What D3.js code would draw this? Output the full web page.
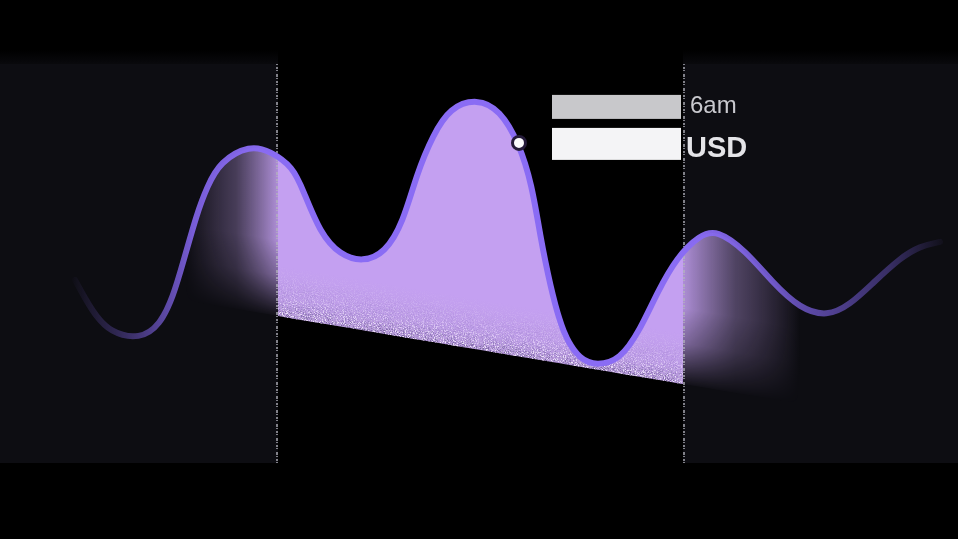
<!DOCTYPE html>
<html>
<head>
<meta charset="utf-8">
<script src="https://cdn.jsdelivr.net/npm/d3@7"></script>
<style>
  html, body { margin: 0; padding: 0; background: #000; overflow: hidden; }
  svg { display: block; }
</style>
</head>
<body>
<div id="chart"></div>
<script>
// price curve, time in 10-minute steps
var times = [7.5, 9.3, 11, 14, 16, 17.3, 18.3, 19.7, 20.7, 22, 25, 27, 29.3, 30.3, 32, 34, 36.3,
             38.5, 40.3, 41.7, 43.3, 45, 47.7, 50, 51.9, 53.2, 54, 55, 56.3, 58, 59.7, 62, 64,
             65.7, 67.7, 70, 71.7, 74.5, 77.3, 80, 82.7, 85, 87.3, 90, 92, 94];
var prices = [40, 29, 22.5, 20.2, 25, 34.3, 45.7, 62.3, 71, 79.5, 85, 83, 77.7, 70, 55.7, 48.3, 46,
              49, 59, 75.7, 88.3, 97.5, 100.5, 96.7, 85.7, 71.7, 55, 38.3, 21.7, 13.3, 11.5, 13.3, 23.3,
              35.7, 47.7, 55, 56.7, 50, 39, 30.5, 27.8, 31.7, 39, 47.3, 51.3, 52.7];
// selected window and the floor of the fill at its two edges
var brushTimes = [27.8, 68.3];
var floorPrices = [28, 5.3];
// hovered point
var hoverIndex = 24;
var hoverLabels = ["6am", "USD"];

var w = 958, h = 539,
    panelTop = 64, panelBottom = 463;

var xScale = d3.scaleLinear().domain([0, 95.8]).range([0, w]);
var yScale = d3.scaleLinear().domain([0, 100]).range([400, 100]);
var floorScale = d3.scaleLinear().domain(brushTimes).range(floorPrices);

var data = times.map(function(t, i) { return {t: t, v: prices[i]}; });

var svg = d3.select("#chart")
    .append("svg")
    .attr("width", w)
    .attr("height", h);

var defs = svg.append("defs");

var bx0 = xScale(brushTimes[0]), bx1 = xScale(brushTimes[1]);
var by0 = yScale(floorPrices[0]), by1 = yScale(floorPrices[1]);

// normal of the sloping floor, for fades that follow it
var dx = bx1 - bx0, dy = by1 - by0, len = Math.sqrt(dx * dx + dy * dy);
var nx = -dy / len, ny = dx / len;
var mx = (bx0 + bx1) / 2, my = (by0 + by1) / 2;

var grad = function(id, x1, y1, x2, y2, stops) {
  var g = defs.append("linearGradient")
      .attr("id", id)
      .attr("gradientUnits", "userSpaceOnUse")
      .attr("x1", x1).attr("y1", y1).attr("x2", x2).attr("y2", y2);
  stops.forEach(function(s) {
    g.append("stop")
        .attr("offset", s[0])
        .attr("stop-color", s[1])
        .attr("stop-opacity", s[2]);
  });
};

grad("midFill", mx - 50 * nx, my - 50 * ny, mx, my,
    [[0, "#c4a0f1", 1], [0.6, "#c4a2ef", 0.97], [1, "#c8a8f0", 0.9]]);
grad("grainLightFill", mx - 50 * nx, my - 50 * ny, mx + 1 * nx, my + 1 * ny,
    [[0, "#f0e0ff", 0], [0.5, "#eedcff", 0.35], [1, "#f8f0ff", 1]]);
grad("grainDarkFill", mx - 40 * nx, my - 40 * ny, mx + 1 * nx, my + 1 * ny,
    [[0, "#5a4a85", 0], [0.6, "#6a58a0", 0.2], [1, "#3a2f60", 0.55]]);
grad("leftFill", 185, 0, bx0, 0,
    [[0, "#c4a0f1", 0], [0.55, "#b496dc", 0.35], [1, "#c4a0f1", 0.88]]);
grad("rightFill", bx1, 0, 800, 0,
    [[0, "#c4a0f1", 0.88], [0.45, "#b496dc", 0.4], [1, "#c4a0f1", 0]]);
grad("floorFade", mx - 75 * nx, my - 75 * ny, mx + 2 * nx, my + 2 * ny,
    [[0, "#fff", 1], [0.45, "#fff", 0.7], [1, "#fff", 0]]);
grad("lineFade", 70, 0, 950, 0,
    [[0, "#8a6cf2", 0], [0.05, "#7a60dc", 0.3], [0.14, "#8466ec", 0.9], [0.236, "#8a6cf4", 1],
     [0.7, "#8a6cf4", 1], [0.8, "#7e63e4", 0.85], [0.93, "#6e58cc", 0.45], [1, "#6e58cc", 0]]);
grad("panelTop", 0, panelTop - 14, 0, panelTop + 6,
    [[0, "#0d0d12", 0], [1, "#0d0d12", 1]]);

// speckle filters for the grainy floor
var grain = function(id, seed, freq) {
  var f = defs.append("filter")
      .attr("id", id)
      .attr("filterUnits", "userSpaceOnUse")
      .attr("x", 0).attr("y", 0).attr("width", w).attr("height", h);
  f.append("feTurbulence")
      .attr("type", "fractalNoise")
      .attr("baseFrequency", freq)
      .attr("numOctaves", 2)
      .attr("seed", seed)
      .attr("result", "noise");
  f.append("feColorMatrix")
      .attr("in", "noise")
      .attr("type", "matrix")
      .attr("values", "0 0 0 0 1  0 0 0 0 1  0 0 0 0 1  7 0 0 0 -3.6")
      .attr("result", "spk");
  f.append("feComposite")
      .attr("in", "SourceGraphic")
      .attr("in2", "spk")
      .attr("operator", "in");
};
grain("grainA", 4, 0.9);
grain("grainB", 11, 0.95);

var mask = defs.append("mask").attr("id", "floorMask");
mask.append("rect")
    .attr("x", 0).attr("y", 0).attr("width", w).attr("height", h)
    .attr("fill", "url(#floorFade)");

defs.append("clipPath").attr("id", "midClip")
    .append("rect")
    .attr("x", bx0).attr("y", 0).attr("width", bx1 - bx0).attr("height", h);
defs.append("clipPath").attr("id", "leftClip")
    .append("rect")
    .attr("x", 0).attr("y", 0).attr("width", bx0).attr("height", h);
defs.append("clipPath").attr("id", "rightClip")
    .append("rect")
    .attr("x", bx1).attr("y", 0).attr("width", w - bx1).attr("height", h);

svg.append("rect")
    .attr("width", w).attr("height", h)
    .attr("fill", "#000");

// dimmed panels outside the window
[[0, bx0], [bx1, w]].forEach(function(p) {
  svg.append("rect")
      .attr("x", p[0]).attr("y", panelTop - 14)
      .attr("width", p[1] - p[0]).attr("height", 20)
      .attr("fill", "url(#panelTop)");
  svg.append("rect")
      .attr("x", p[0]).attr("y", panelTop)
      .attr("width", p[1] - p[0]).attr("height", panelBottom - panelTop)
      .attr("fill", "#0d0d12");
});

var curve = d3.curveBasis;

var area = d3.area()
    .x(function(d) { return xScale(d.t); })
    .y0(function(d) { return yScale(floorScale(d.t)); })
    .y1(function(d) { return yScale(d.v); })
    .curve(curve);

var line = d3.line()
    .x(function(d) { return xScale(d.t); })
    .y(function(d) { return yScale(d.v); })
    .curve(curve);

// fill under the panels fades out sideways and towards the floor
var sideFill = svg.append("g").attr("mask", "url(#floorMask)");
sideFill.append("path")
    .datum(data)
    .attr("clip-path", "url(#leftClip)")
    .attr("d", area)
    .attr("fill", "url(#leftFill)");
sideFill.append("path")
    .datum(data)
    .attr("clip-path", "url(#rightClip)")
    .attr("d", area)
    .attr("fill", "url(#rightFill)");

var mid = svg.append("g").attr("clip-path", "url(#midClip)");
mid.append("path")
    .datum(data)
    .attr("d", area)
    .attr("fill", "url(#midFill)");
mid.append("path")
    .datum(data)
    .attr("d", area)
    .attr("fill", "url(#grainLightFill)")
    .attr("filter", "url(#grainA)");
mid.append("path")
    .datum(data)
    .attr("d", area)
    .attr("fill", "url(#grainDarkFill)")
    .attr("filter", "url(#grainB)");

// dithered window edges
[bx0 - 1, bx1 + 1].forEach(function(x) {
  svg.append("line")
      .attr("x1", x).attr("x2", x)
      .attr("y1", panelTop).attr("y2", panelBottom)
      .attr("stroke", "#b4b4bc")
      .attr("stroke-width", 2)
      .attr("stroke-opacity", 0.7)
      .attr("stroke-dasharray", "1 2 2 1 1 3 3 1");
});

svg.append("path")
    .datum(data)
    .attr("d", line)
    .attr("fill", "none")
    .attr("stroke", "url(#lineFade)")
    .attr("stroke-width", 6)
    .attr("stroke-linecap", "round");

var hover = data[hoverIndex];
var hx = xScale(hover.t), hy = yScale(hover.v);

svg.append("circle")
    .attr("cx", hx).attr("cy", hy)
    .attr("r", 6.5)
    .attr("fill", "#fbfbfd")
    .attr("stroke", "#251b3a")
    .attr("stroke-width", 3);

// tooltip, leading part masked out
var tipX = hx + 34;
svg.append("text")
    .attr("x", tipX + 137).attr("y", hy - 30)
    .attr("font-family", "'Liberation Sans', Arial, sans-serif")
    .attr("font-size", 24)
    .attr("fill", "#c9c9ce")
    .text(hoverLabels[0]);
svg.append("text")
    .attr("x", tipX + 133).attr("y", hy + 14)
    .attr("font-family", "'Liberation Sans', Arial, sans-serif")
    .attr("font-size", 29)
    .attr("font-weight", "bold")
    .attr("fill", "#e4e4e8")
    .text(hoverLabels[1]);

svg.append("rect")
    .attr("x", tipX - 1).attr("y", hy - 48)
    .attr("width", 129).attr("height", 24)
    .attr("fill", "#c8c8cb");
svg.append("rect")
    .attr("x", tipX - 1).attr("y", hy - 15)
    .attr("width", 129).attr("height", 32)
    .attr("fill", "#f4f4f6");
</script>
</body>
</html>
